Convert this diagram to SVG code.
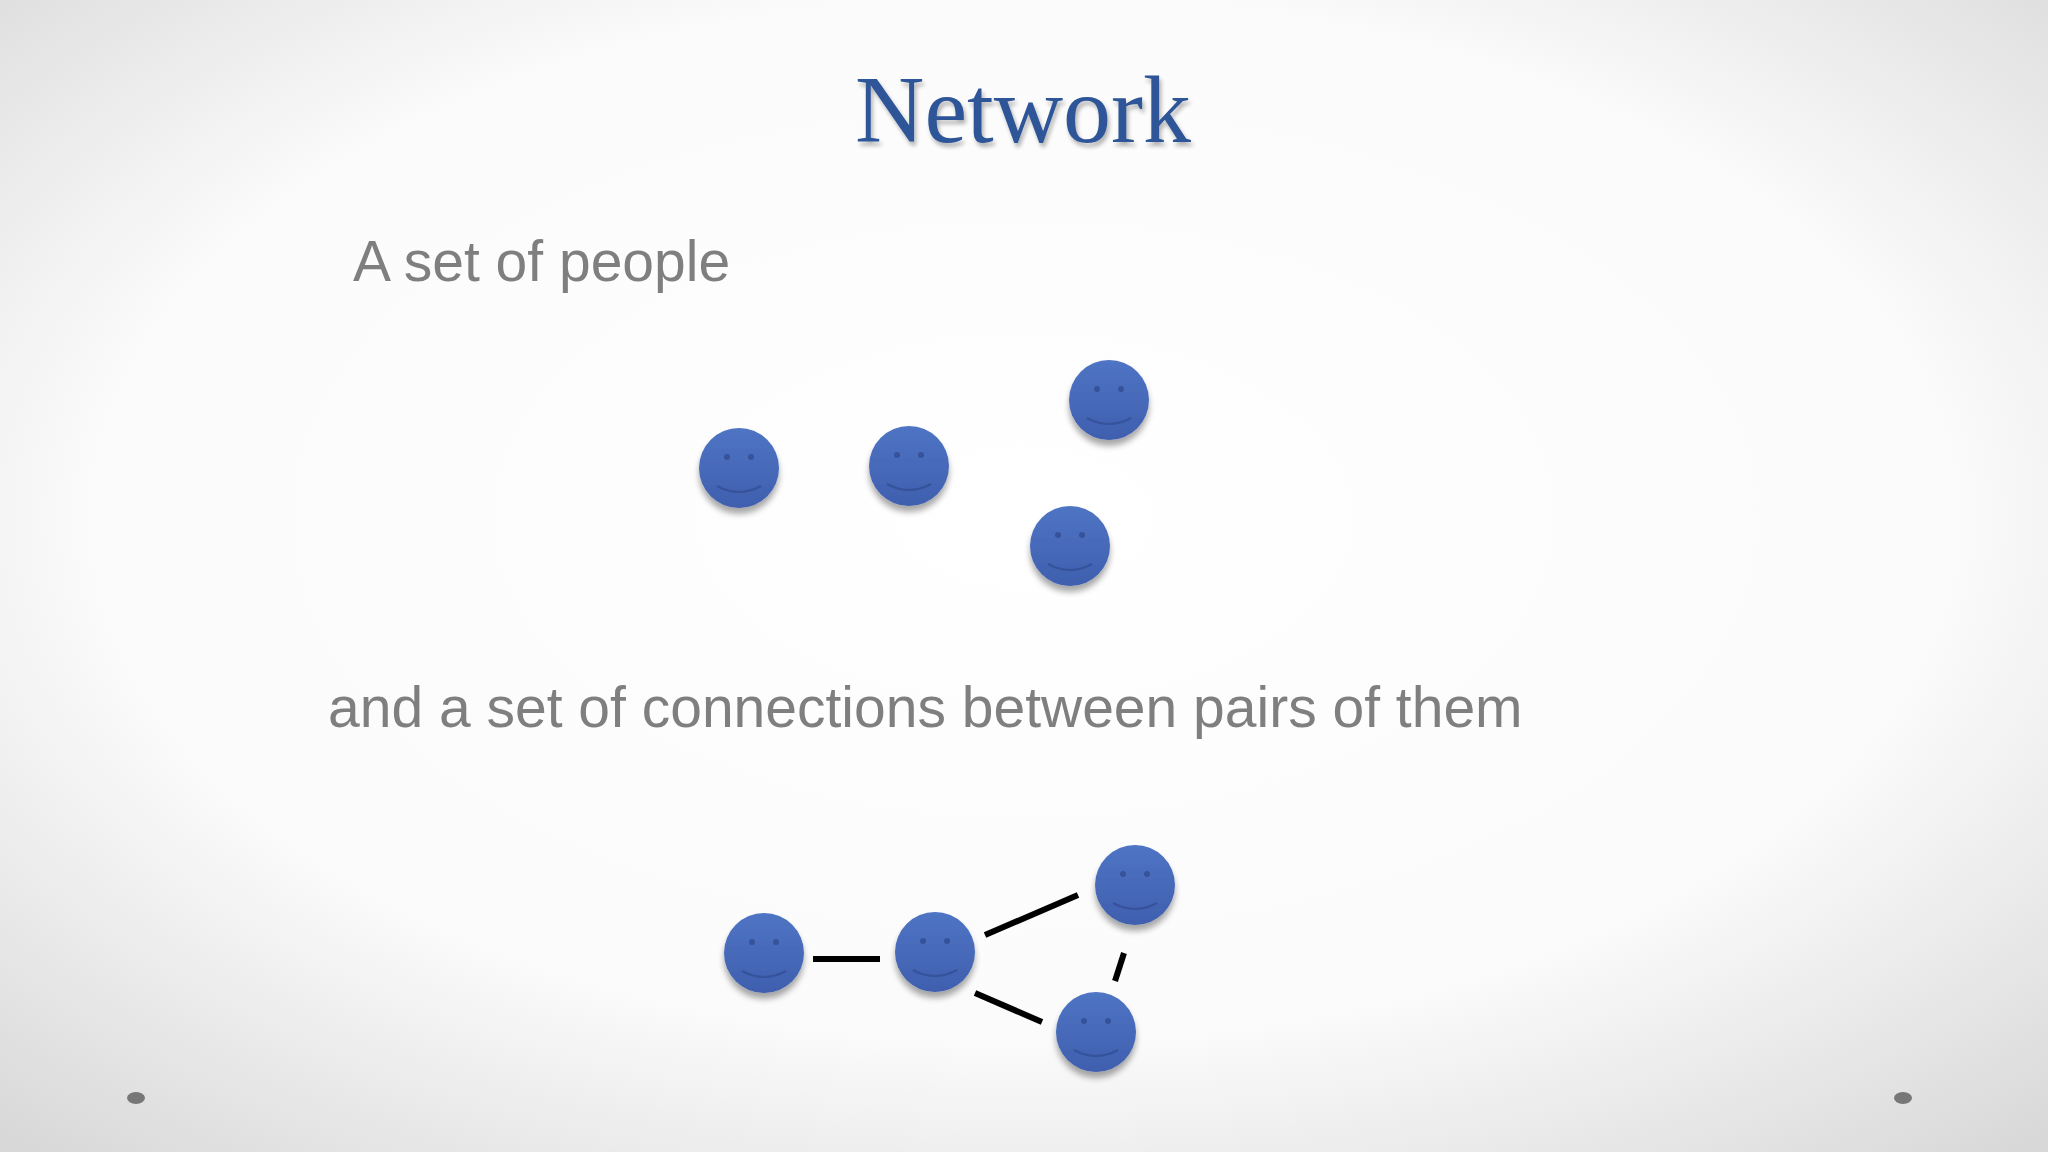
<svg xmlns="http://www.w3.org/2000/svg" width="2048" height="1152" viewBox="0 0 2048 1152">
<defs>
<radialGradient id="bg" cx="50%" cy="45%" r="75%">
<stop offset="0" stop-color="#ffffff"/><stop offset="0.6" stop-color="#fbfbfb"/><stop offset="1" stop-color="#d6d6d6"/>
</radialGradient>
<linearGradient id="face" x1="0" y1="0" x2="0" y2="1">
<stop offset="0" stop-color="#4f74c4"/><stop offset="1" stop-color="#3f5fae"/>
</linearGradient>
<filter id="sh" x="-30%" y="-30%" width="160%" height="170%">
<feGaussianBlur in="SourceAlpha" stdDeviation="3"/><feOffset dy="6"/>
<feComponentTransfer><feFuncA type="linear" slope="0.35"/></feComponentTransfer>
<feMerge><feMergeNode/><feMergeNode in="SourceGraphic"/></feMerge>
</filter>
<filter id="tsh"><feGaussianBlur in="SourceAlpha" stdDeviation="2"/><feOffset dx="2" dy="4"/><feComponentTransfer><feFuncA type="linear" slope="0.3"/></feComponentTransfer><feMerge><feMergeNode/><feMergeNode in="SourceGraphic"/></feMerge></filter>
<g id="smiley">
<circle r="40" fill="url(#face)" filter="url(#sh)"/>
<circle cx="-12" cy="-11" r="3" fill="#36529a"/>
<circle cx="12" cy="-11" r="3" fill="#36529a"/>
<path d="M-22 18 Q0 30 22 18" fill="none" stroke="#36529a" stroke-width="2"/>
</g>
</defs>
<style>.body{font-family:"Liberation Sans",Arial,sans-serif;font-size:57px;fill:#7f7f7f}.edge{stroke:#000;stroke-width:6}</style>
<rect width="2048" height="1152" fill="url(#bg)"/>
<text x="1023" y="142" text-anchor="middle" font-family="Liberation Serif,Times New Roman,serif" font-size="96" fill="#2e5597" filter="url(#tsh)">Network</text>
<text class="body" x="353" y="281">A set of people</text>
<text class="body" x="328" y="727">and a set of connections between pairs of them</text>
<g id="p1"><use href="#smiley" x="739" y="468"/></g>
<g id="p2"><use href="#smiley" x="909" y="466"/></g>
<g id="p3"><use href="#smiley" x="1109" y="400"/></g>
<g id="p4"><use href="#smiley" x="1070" y="546"/></g>
<g id="connectors">
<line class="edge" x1="813" y1="959" x2="880" y2="959"/>
<line class="edge" x1="985" y1="935" x2="1078" y2="895"/>
<line class="edge" x1="975" y1="993" x2="1042" y2="1022"/>
<line class="edge" x1="1124" y1="953" x2="1115" y2="981"/>
</g>
<g id="n1"><use href="#smiley" x="764" y="953"/></g>
<g id="n2"><use href="#smiley" x="935" y="952"/></g>
<g id="n3"><use href="#smiley" x="1135" y="885"/></g>
<g id="n4"><use href="#smiley" x="1096" y="1032"/></g>
<ellipse cx="136" cy="1098" rx="9" ry="6" fill="#777"/>
<ellipse cx="1903" cy="1098" rx="9" ry="6" fill="#777"/>
</svg>
